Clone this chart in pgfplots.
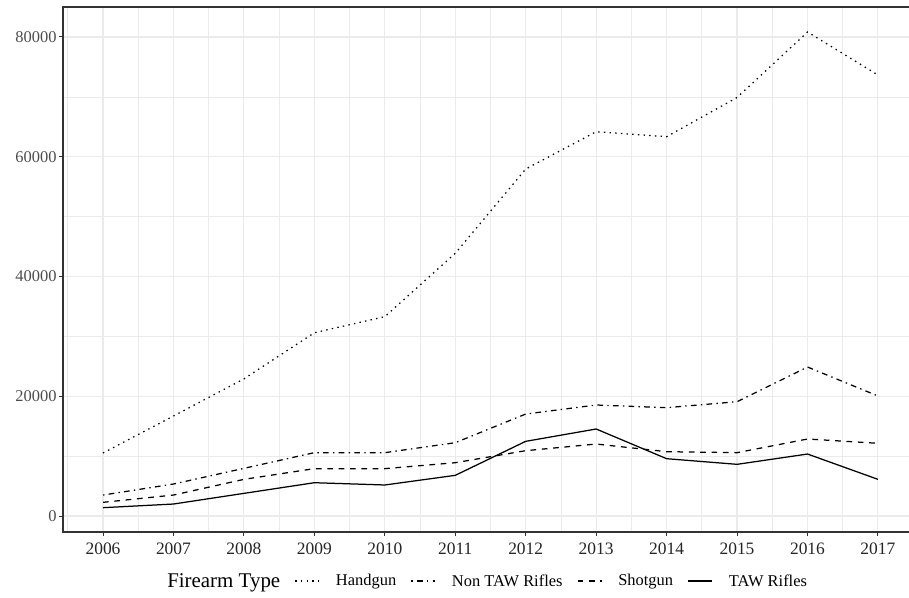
\documentclass[border=0pt]{standalone}
\usepackage{fontspec}
\setmainfont{Liberation Serif}
\usepackage{pgfplots}
\pgfplotsset{compat=1.18}
\definecolor{gridgray}{HTML}{EBEBEB}
\definecolor{grey20}{HTML}{333333}
\definecolor{grey30}{HTML}{4D4D4D}

\begin{document}
\begin{tikzpicture}
\begin{axis}[
  name=ax, at={(0,0)}, anchor=south west,
  scale only axis, width=855bp, height=525bp,
  xmin=2005.432, xmax=2017.568, ymin=-2672, ymax=85010,
  xtick={2006,...,2017}, ytick={0,20000,40000,60000,80000},
  minor xtick={2005.5,2006.5,...,2017.5},
  minor ytick={10000,30000,50000,70000},
  grid=both,
  major grid style={gridgray, line width=1.07bp},
  minor grid style={gridgray, line width=0.6bp},
  axis line style={grey20, line width=1.1bp},
  tick style={grey20, line width=1bp},
  tick align=outside, tick pos=left,
  major tick length=4bp, minor tick length=0pt,
  scaled y ticks=false,
  /pgf/number format/assume math mode=true,
  /pgf/number format/1000 sep={},
  xticklabel style={font=\fontsize{17.5}{19}\selectfont, text=black!85, yshift=-3bp},
  yticklabel style={font=\fontsize{16.5}{18}\selectfont, text=grey30, xshift=1bp},
  legend columns=-1,
  legend image code/.code={\draw[#1] (0bp,0bp) -- (24bp,0bp);},
  legend style={at={(0.1030,-0.0933)}, anchor=west, draw=none, fill=none,
    inner sep=0pt, font=\fontsize{16.5}{18}\selectfont,
    /tikz/every odd column/.append style={column sep=14bp},
    /tikz/every even column/.append style={column sep=12.5bp}},
]
\addlegendimage{empty legend}
\addlegendentry{\fontsize{21}{24}\selectfont Firearm Type}

% Handgun
\addplot[black, line width=1.25bp, dash pattern=on 1.42bp off 4.26bp] coordinates {
  (2006,10520) (2007,16700) (2008,22900) (2009,30610) (2010,33290) (2011,43870)
  (2012,57950) (2013,64180) (2014,63350) (2015,69900) (2016,80830) (2017,73650)};
\addlegendentry{Handgun}

% Non TAW Rifles
\addplot[black, line width=1.25bp, dash pattern=on 1.42bp off 4.26bp on 5.68bp off 4.26bp] coordinates {
  (2006,3500) (2007,5340) (2008,7960) (2009,10580) (2010,10580) (2011,12240)
  (2012,17030) (2013,18540) (2014,18090) (2015,19090) (2016,24880) (2017,20040)};
\addlegendentry{Non TAW Rifles}

% Shotgun
\addplot[black, line width=1.25bp, dash pattern=on 5.68bp off 5.68bp] coordinates {
  (2006,2280) (2007,3500) (2008,6120) (2009,7910) (2010,7910) (2011,8900)
  (2012,10910) (2013,12020) (2014,10740) (2015,10580) (2016,12860) (2017,12140)};
\addlegendentry{Shotgun}

% TAW Rifles
\addplot[black, line width=1.25bp] coordinates {
  (2006,1390) (2007,2000) (2008,3780) (2009,5560) (2010,5180) (2011,6790)
  (2012,12470) (2013,14530) (2014,9570) (2015,8630) (2016,10350) (2017,6120)};
\addlegendentry{TAW Rifles}
\end{axis}
\pgfresetboundingbox
\useasboundingbox (-63bp,-66bp) rectangle (846bp,532bp);
\end{tikzpicture}
\end{document}
